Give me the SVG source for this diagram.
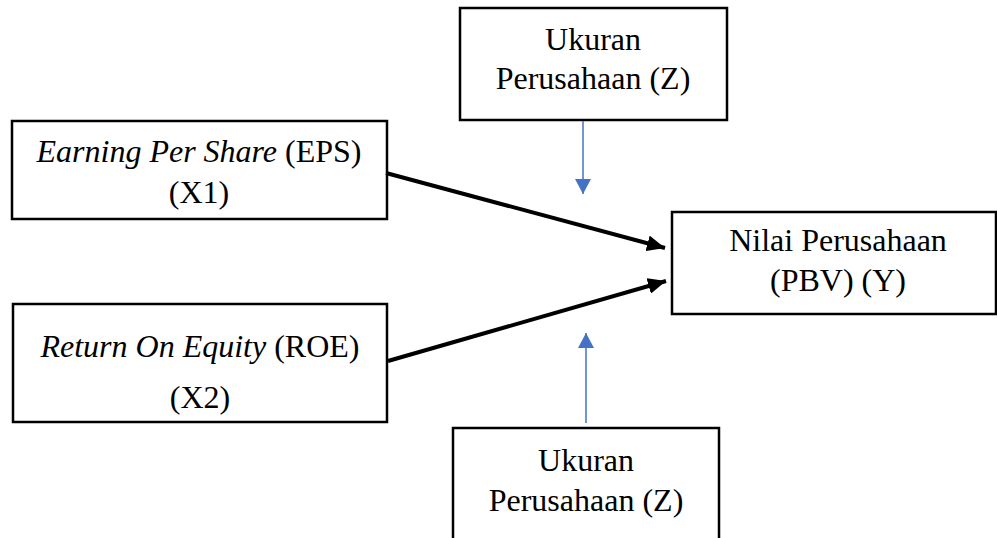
<svg xmlns="http://www.w3.org/2000/svg" width="997" height="538" viewBox="0 0 997 538">
<style>
.box{fill:#fff;stroke:#000;stroke-width:2.5}
text{font-family:"Liberation Serif","Times New Roman",serif;font-size:32px;fill:#000;text-anchor:middle}
.it{font-style:italic}
.blk{stroke:#000;stroke-width:4;fill:none}
.blu{stroke:#4472C4;stroke-width:1.5;fill:none}
</style>
<defs>
<marker id="ab" markerUnits="userSpaceOnUse" markerWidth="20" markerHeight="16" refX="18" refY="8" orient="auto">
<path d="M0,0 L18,8 L0,16 Z" fill="#000"/>
</marker>
<marker id="au" markerUnits="userSpaceOnUse" markerWidth="16" markerHeight="16" refX="15" refY="8" orient="auto">
<path d="M0,0 L15,8 L0,16 Z" fill="#4472C4"/>
</marker>
</defs>
<g id="eps">
<rect class="box" x="12" y="121" width="375" height="98"/>
<text x="199" y="162"><tspan class="it">Earning Per Share</tspan> (EPS)</text>
<text x="199" y="203">(X1)</text>
</g>
<g id="roe">
<rect class="box" x="13" y="304" width="374" height="118"/>
<text x="200" y="357"><tspan class="it">Return On Equity</tspan> (ROE)</text>
<text x="200" y="408">(X2)</text>
</g>
<g id="z-top">
<rect class="box" x="460" y="8" width="267" height="112"/>
<text x="593" y="50">Ukuran</text>
<text x="593" y="89">Perusahaan (Z)</text>
</g>
<g id="y">
<rect class="box" x="672" y="212" width="324" height="102"/>
<text x="838" y="251">Nilai Perusahaan</text>
<text x="838" y="291">(PBV) (Y)</text>
</g>
<g id="z-bottom">
<rect class="box" x="453" y="428" width="266" height="120"/>
<text x="586" y="471">Ukuran</text>
<text x="586" y="511">Perusahaan (Z)</text>
</g>
<g id="connectors">
<line class="blk" x1="386" y1="173" x2="665" y2="248" marker-end="url(#ab)"/>
<line class="blk" x1="388" y1="361" x2="666" y2="281" marker-end="url(#ab)"/>
<line class="blu" x1="583" y1="121" x2="583" y2="194" marker-end="url(#au)"/>
<line class="blu" x1="586" y1="423" x2="586" y2="333" marker-end="url(#au)"/>
</g>
</svg>
